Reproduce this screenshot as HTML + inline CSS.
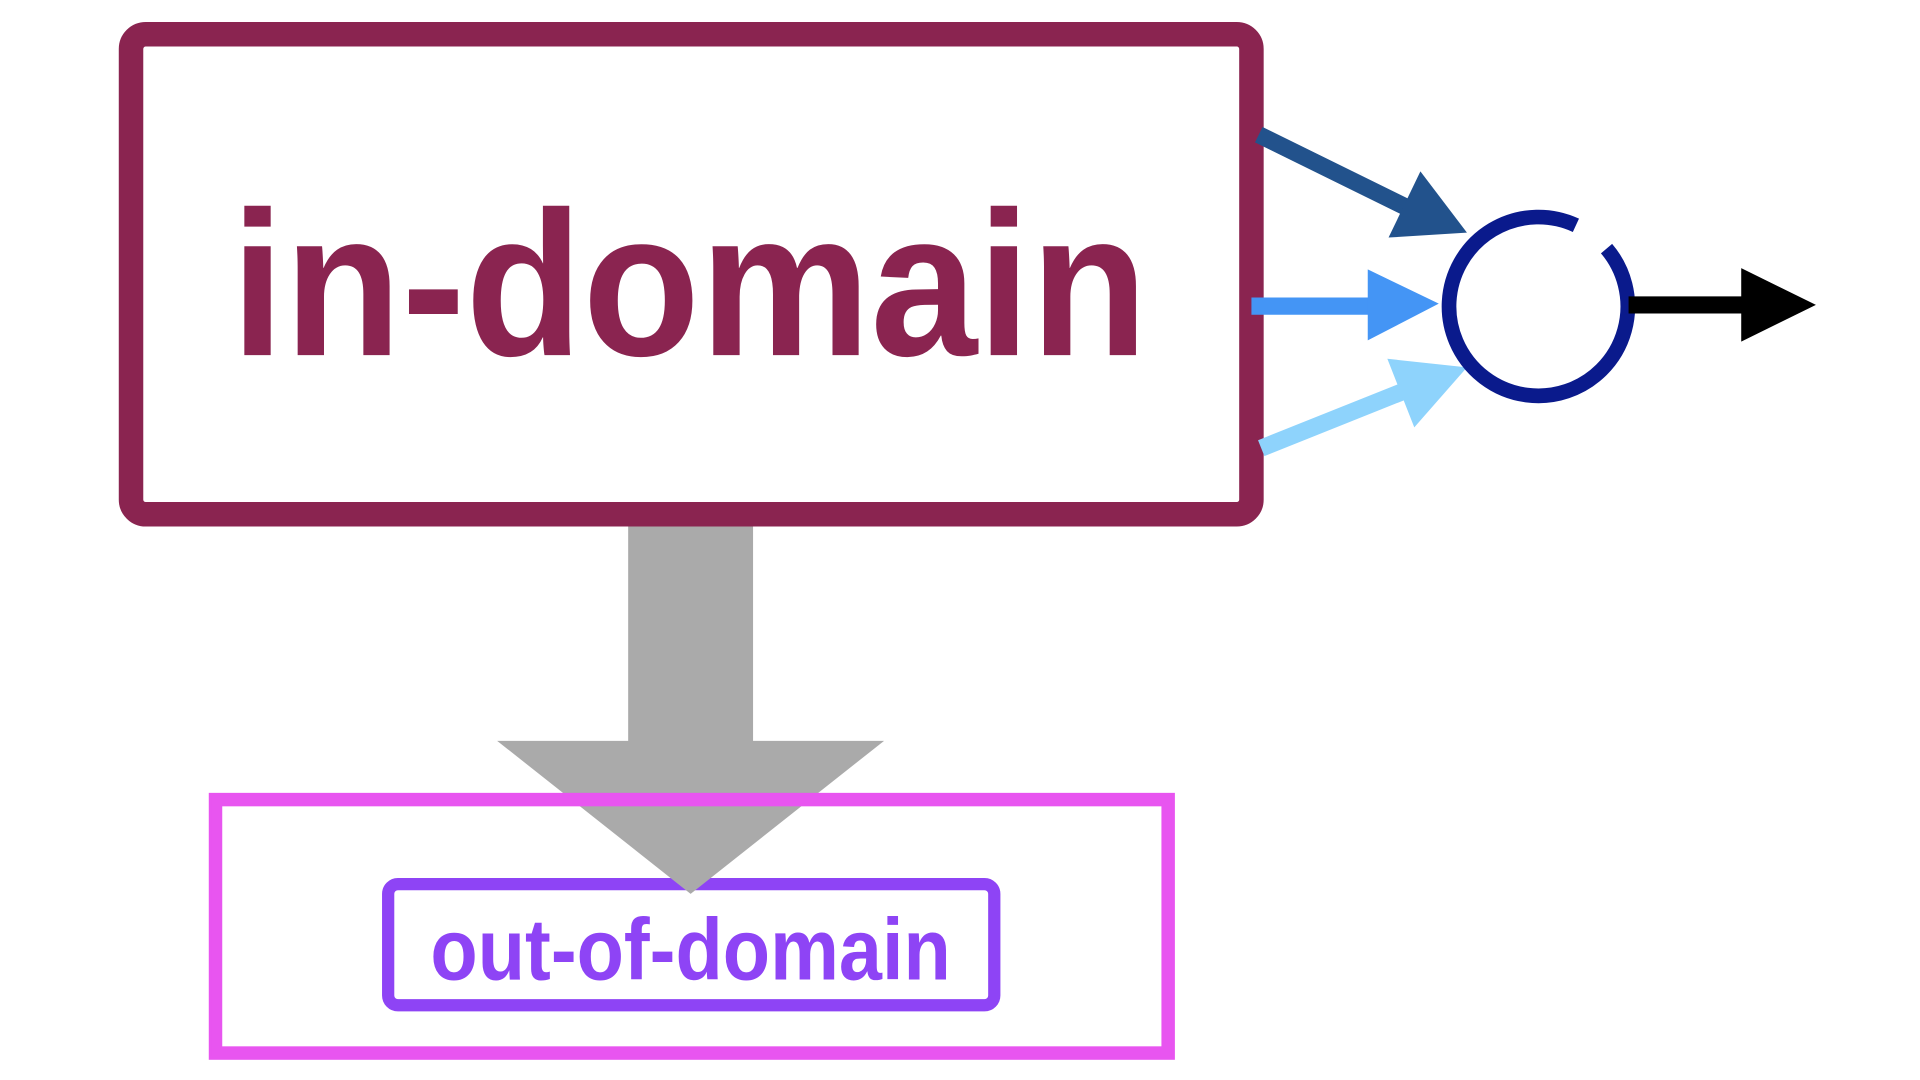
<!DOCTYPE html>
<html><head><meta charset="utf-8"><style>html,body{margin:0;padding:0;background:#fff;width:1920px;height:1080px;overflow:hidden}
.t{font-family:"Liberation Sans",Arial,Helvetica,sans-serif;font-weight:bold;letter-spacing:0}</style></head>
<body>
<svg width="1920" height="1080" viewBox="0 0 1568 882" preserveAspectRatio="none" xmlns="http://www.w3.org/2000/svg">
<rect x="0" y="0" width="1568" height="882" fill="#fff"/>
<rect x="317" y="722" width="495" height="99" rx="8" fill="#fff" stroke="#8e44f5" stroke-width="10"/>
<g transform="translate(564,800) scale(0.93,1.05)">
<text class="t" x="0" y="0" text-anchor="middle" font-size="68" fill="#8e44f5">out-of-domain</text>
</g>
<polygon points="513,427 615,427 615,605 722,605 564,730 406,605 513,605" fill="#aaaaaa"/>
<rect x="176" y="653" width="778" height="207" fill="none" stroke="#e855f0" stroke-width="11"/>
<rect x="172" y="649" width="786" height="215" fill="none" stroke="#e855f0" stroke-width="2" opacity="0.6"/>
<rect x="107" y="28" width="915" height="392" rx="12" fill="#fff" stroke="#8a2450" stroke-width="20"/>
<g transform="translate(563,290) scale(0.95,1.02)">
<text class="t" x="0" y="0" text-anchor="middle" font-size="165" fill="#8a2450">in-domain</text>
</g>
<line x1="1028" y1="110" x2="1150" y2="170" stroke="#22528c" stroke-width="14"/>
<polygon points="1160,140 1198,190 1134,194" fill="#22528c"/>
<line x1="1022" y1="250" x2="1120" y2="250" stroke="#4495f5" stroke-width="14"/>
<polygon points="1117,220 1175,248 1117,278" fill="#4495f5"/>
<line x1="1030" y1="366" x2="1150" y2="318" stroke="#8ed3fc" stroke-width="14"/>
<polygon points="1133,293 1198,300 1155,349" fill="#8ed3fc"/>
<path d="M1312,203 A73,73 0 1,1 1287,184" fill="none" stroke="#0a1a8c" stroke-width="12"/>
<line x1="1330" y1="249" x2="1425" y2="249" stroke="#000" stroke-width="14"/>
<polygon points="1422,219 1483,249 1422,279" fill="#000"/>
</svg>
</body></html>
